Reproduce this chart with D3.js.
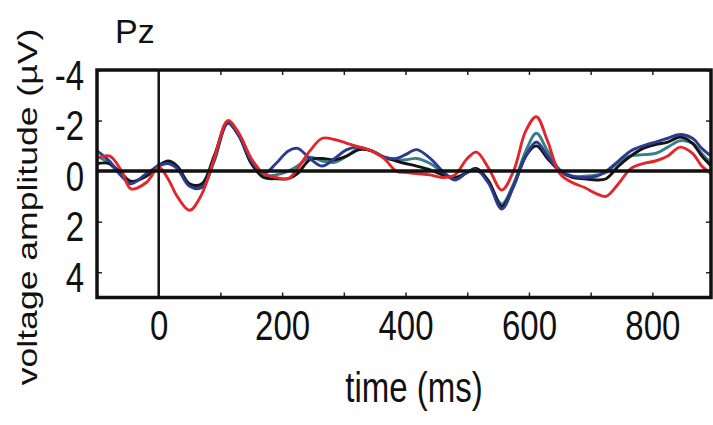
<!DOCTYPE html>
<html>
<head>
<meta charset="utf-8">
<script src="https://cdn.jsdelivr.net/npm/d3@7"></script>
<style>
  body { margin: 0; background: #fff; }
  svg text { font-family: "Liberation Sans", Arial, sans-serif; fill: #111; }
</style>
</head>
<body>
<svg id="chart" width="713" height="425"></svg>
<script>
// ERP at Pz, negative up
const times = [-100, -80, -60, -45, -20, 0, 15, 30, 50, 70, 90, 112, 130, 150, 170, 190, 210, 225, 245, 265,
  285, 305, 325, 345, 365, 385, 400, 418, 440, 460, 480, 500, 515, 535, 556, 575, 595, 612, 630, 650,
  670, 690, 710, 725, 745, 765, 785, 805, 825, 845, 865, 880, 895]

const blackVals = [-0.3, -0.3, 0.1, 0.4, 0.2, -0.2, -0.4, -0.2, 0.5, 0.5, -0.6, -1.9, -1.4, -0.3, 0.25, 0.3, 0.3, 0.1, -0.45, -0.5,
  -0.45, -0.6, -0.85, -0.8, -0.55, -0.4, -0.3, -0.2, -0.05, 0.15, 0.25, 0.05, -0.1, 0.4, 1.4, 0.6, -0.6, -1.0, -0.5, 0.0,
  0.25, 0.3, 0.35, 0.3, -0.2, -0.6, -0.9, -1.05, -1.15, -1.35, -1.1, -0.6, -0.2]

const blueVals = [-0.8, -0.4, 0.2, 0.5, 0.1, -0.2, -0.3, -0.1, 0.6, 0.65, -0.4, -1.9, -1.4, -0.4, 0.1, -0.3, -0.8, -0.9, -0.5, -0.2,
  -0.5, -0.85, -0.95, -0.8, -0.55, -0.5, -0.65, -0.85, -0.5, 0.0, 0.35, 0.05, -0.05, 0.5, 1.5, 0.6, -0.6, -1.15, -0.6, 0.0,
  0.2, 0.25, 0.2, 0.0, -0.4, -0.8, -1.0, -1.15, -1.3, -1.45, -1.3, -0.9, -0.6]

const tealVals = [-0.6, -0.3, 0.2, 0.45, 0.15, -0.25, -0.35, -0.15, 0.55, 0.6, -0.5, -1.9, -1.4, -0.35, 0.15, 0.15, 0.0, -0.2, -0.55, -0.4,
  -0.35, -0.6, -0.9, -0.8, -0.55, -0.45, -0.45, -0.5, -0.3, 0.05, 0.3, 0.05, -0.1, 0.45, 1.3, 0.5, -0.8, -1.5, -0.8, -0.05,
  0.2, 0.2, 0.15, 0.05, -0.35, -0.6, -0.65, -0.7, -0.95, -1.2, -1.1, -0.7, -0.3]

const redVals = [-0.5, -0.6, 0.0, 0.7, 0.45, -0.15, 0.3, 1.0, 1.55, 0.9, -0.5, -2.0, -1.5, -0.5, 0.1, 0.25, 0.3, -0.1, -0.8, -1.3,
  -1.25, -1.1, -0.95, -0.8, -0.5, 0.0, 0.05, 0.1, 0.15, 0.25, 0.15, -0.5, -0.75, -0.1, 0.75, 0.0, -1.6, -2.15, -1.2, 0.1,
  0.45, 0.65, 0.9, 1.0, 0.5, -0.1, -0.3, -0.4, -0.6, -0.95, -0.7, -0.2, 0.1]

const xTicks = d3.range(-100, 900, 100)
const yTicks = [-4, -2, 0, 2, 4]

const series = [
  { vals: tealVals, color: '#3a7d8a' },
  { vals: blackVals, color: '#151515' },
  { vals: blueVals, color: '#2b3b8e' },
  { vals: redVals, color: '#e3262b' }
]

const svg = d3.select('#chart')

const x = d3.scaleLinear().domain([-100, 895]).range([97, 711])
const y = d3.scaleLinear().domain([-4, 5]).range([70, 297.5])

const stretch = 'scale(1,1.27)'

// waveforms
const line = d3.line()
  .x((d, i) => x(times[i]))
  .y(d => y(d))
  .curve(d3.curveCatmullRom.alpha(0.5))

svg.append('g')
  .selectAll('path')
  .data(series)
  .join('path')
  .attr('d', d => line(d.vals))
  .attr('fill', 'none')
  .attr('stroke', d => d.color)
  .attr('stroke-width', 2.9)
  .attr('stroke-linejoin', 'round')

// zero lines
svg.append('line')
  .attr('x1', x(-100)).attr('x2', x(895))
  .attr('y1', y(0)).attr('y2', y(0))
  .attr('stroke', '#111').attr('stroke-width', 3.5)

svg.append('line')
  .attr('x1', x(0)).attr('x2', x(0))
  .attr('y1', y(-4)).attr('y2', y(5))
  .attr('stroke', '#111').attr('stroke-width', 2.5)

// axes, ticks inside
let xAxisBottom = svg.append('g')
  .attr('transform', 'translate(0,' + y(5) + ')')
  .call(d3.axisBottom(x).tickValues(xTicks).tickSizeInner(-5).tickSizeOuter(0)
    .tickFormat(d => (d >= 0 && d % 200 === 0) ? String(d) : ''))
xAxisBottom.select('.domain').remove()
xAxisBottom.selectAll('text')
  .attr('y', 0).attr('dy', null)
  .attr('transform', 'translate(0,42) ' + stretch)
  .style('font-size', '33px')

let yAxisLeft = svg.append('g')
  .attr('transform', 'translate(' + x(-100) + ',0)')
  .call(d3.axisLeft(y).tickValues(yTicks).tickSizeInner(-5).tickSizeOuter(0)
    .tickFormat(d => String(d)))
yAxisLeft.select('.domain').remove()
yAxisLeft.selectAll('text')
  .attr('x', 0).attr('dy', null)
  .attr('transform', 'translate(-13,19) ' + stretch)
  .style('font-size', '33px')

let xAxisTop = svg.append('g')
  .attr('transform', 'translate(0,' + y(-4) + ')')
  .call(d3.axisTop(x).tickValues(xTicks).tickSizeInner(-5).tickSizeOuter(0).tickFormat(''))
xAxisTop.select('.domain').remove()

let yAxisRight = svg.append('g')
  .attr('transform', 'translate(' + x(895) + ',0)')
  .call(d3.axisRight(y).tickValues(yTicks).tickSizeInner(-5).tickSizeOuter(0).tickFormat(''))
yAxisRight.select('.domain').remove()

svg.selectAll('.tick line').attr('stroke', '#222').attr('stroke-width', 1.5)

// frame
svg.append('rect')
  .attr('x', x(-100)).attr('y', y(-4))
  .attr('width', x(895) - x(-100)).attr('height', y(5) - y(-4))
  .attr('fill', 'none').attr('stroke', '#111').attr('stroke-width', 3.5)

// labels
svg.append('text')
  .attr('transform', 'translate(115,43)')
  .style('font-size', '34px')
  .text('Pz')

svg.append('text')
  .attr('transform', 'translate(414,402) ' + stretch)
  .attr('text-anchor', 'middle')
  .style('font-size', '33px')
  .text('time (ms)')

svg.append('text')
  .attr('transform', 'translate(37,207) ' + stretch + ' rotate(-90)')
  .attr('text-anchor', 'middle')
  .style('font-size', '28px')
  .text('voltage amplitude (µV)')
</script>
</body>
</html>
